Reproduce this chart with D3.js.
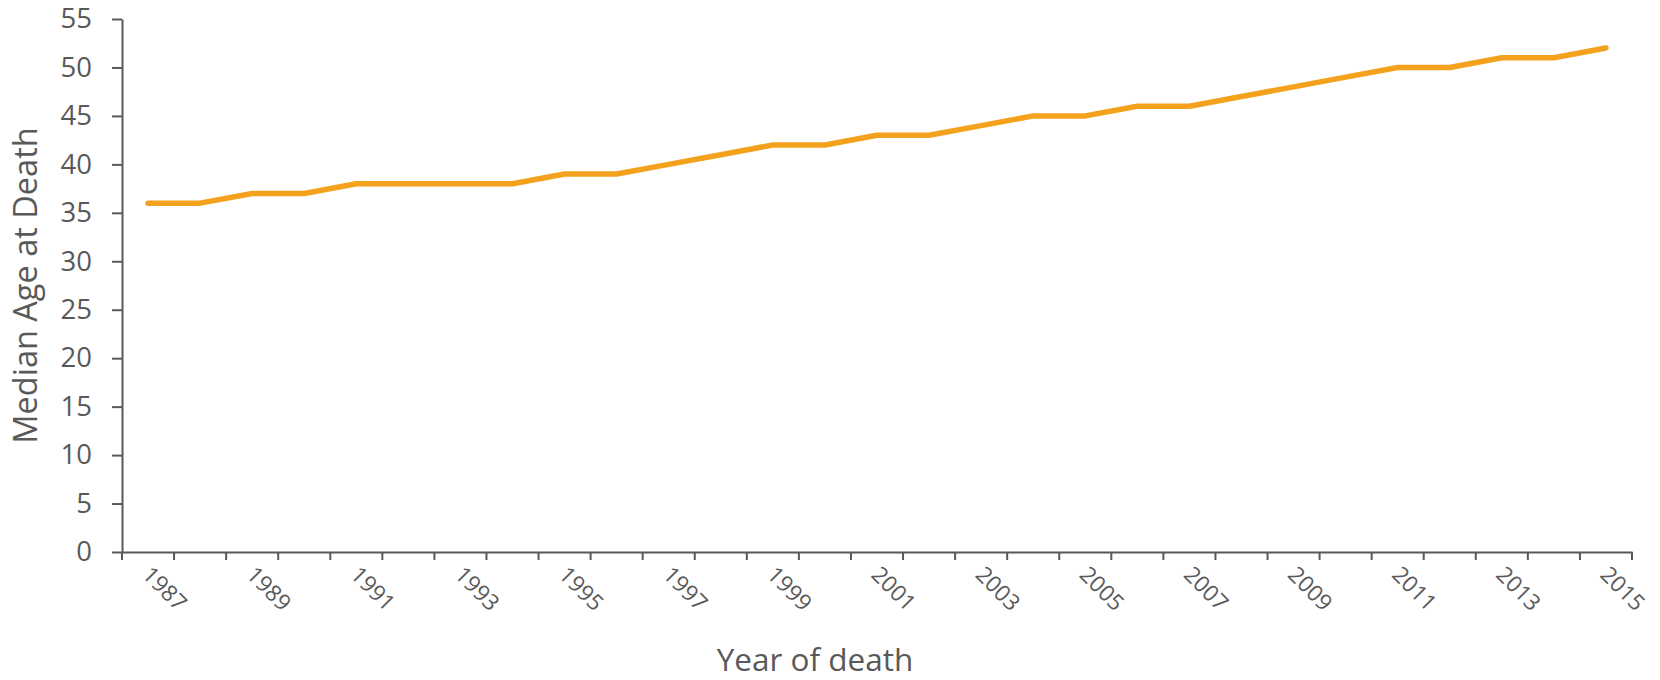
<!DOCTYPE html>
<html><head><meta charset="utf-8">
<script src="https://cdn.jsdelivr.net/npm/d3@7"></script>
<style>body{margin:0;background:#fff}svg{display:block}</style>
</head><body>
<svg id="c" width="1660" height="680"></svg>
<script>
const years = [1987,1988,1989,1990,1991,1992,1993,1994,1995,1996,1997,1998,1999,2000,2001,2002,2003,2004,2005,2006,2007,2008,2009,2010,2011,2012,2013,2014,2015];
const medianAge = [36,36,37,37,38,38,38,38,39,39,40,41,42,42,43,43,44,45,45,46,46,47,48,49,50,50,51,51,52];
const yTicks = [0,5,10,15,20,25,30,35,40,45,50,55];
const xLabelYears = years.filter((d,i)=>i%2===0);
const yTitle = "Median Age at Death";
const xTitle = "Year of death";

const svg = d3.select("#c");
const font = "'Open Sans', 'Noto Sans', sans-serif";
const gray = "#595959";
const L = 122, R = 1632, T = 19, B = 552;

const x = d3.scaleBand().domain(years).range([L, R]).padding(0);
const y = d3.scaleLinear().domain([0,55]).range([B, T]);

// y axis
const gy = svg.append("g").attr("transform",`translate(${L},0)`)
  .call(d3.axisLeft(y).tickValues(yTicks).tickSize(10).tickPadding(20).tickSizeOuter(0));
gy.select(".domain").attr("stroke",gray).attr("stroke-width",2);
gy.selectAll(".tick line").attr("stroke",gray).attr("stroke-width",2);
gy.selectAll(".tick text").attr("fill",gray).style("font-family",font).style("font-size","27.5px");

// x axis labels
const gx = svg.append("g").attr("transform",`translate(0,${B})`)
  .call(d3.axisBottom(x).tickValues(xLabelYears).tickSize(0).tickSizeOuter(0));
gx.select(".domain").attr("stroke",gray).attr("stroke-width",2);
gx.selectAll(".tick text")
  .attr("fill",gray).style("font-family",font).style("font-size","22.5px")
  .attr("text-anchor","start").attr("dy",null).attr("y",0)
  .attr("transform","translate(-7,24) rotate(45)");
// tick marks at band boundaries
const bounds = years.map(d=>x(d)).concat([x.range()[1]]);
svg.append("g").selectAll("line").data(bounds).join("line")
  .attr("x1",d=>d).attr("x2",d=>d).attr("y1",B).attr("y2",B+8)
  .attr("stroke",gray).attr("stroke-width",2);

// line
const line = d3.line().x((d,i)=>x(years[i])+x.bandwidth()/2).y(d=>y(d));
svg.append("path").datum(medianAge).attr("d",line)
  .attr("fill","none").attr("stroke","#F4A21E").attr("stroke-width",5.5)
  .attr("stroke-linecap","round").attr("stroke-linejoin","round");

// titles
svg.append("text").attr("transform",`translate(37,${(T+B)/2}) rotate(-90)`)
  .attr("text-anchor","middle").attr("fill",gray)
  .style("font-family",font).style("font-size","32.5px").text(yTitle);
svg.append("text").attr("x",815).attr("y",671)
  .attr("text-anchor","middle").attr("fill",gray)
  .style("font-family",font).style("font-size","31.5px").text(xTitle);
</script>
</body></html>
